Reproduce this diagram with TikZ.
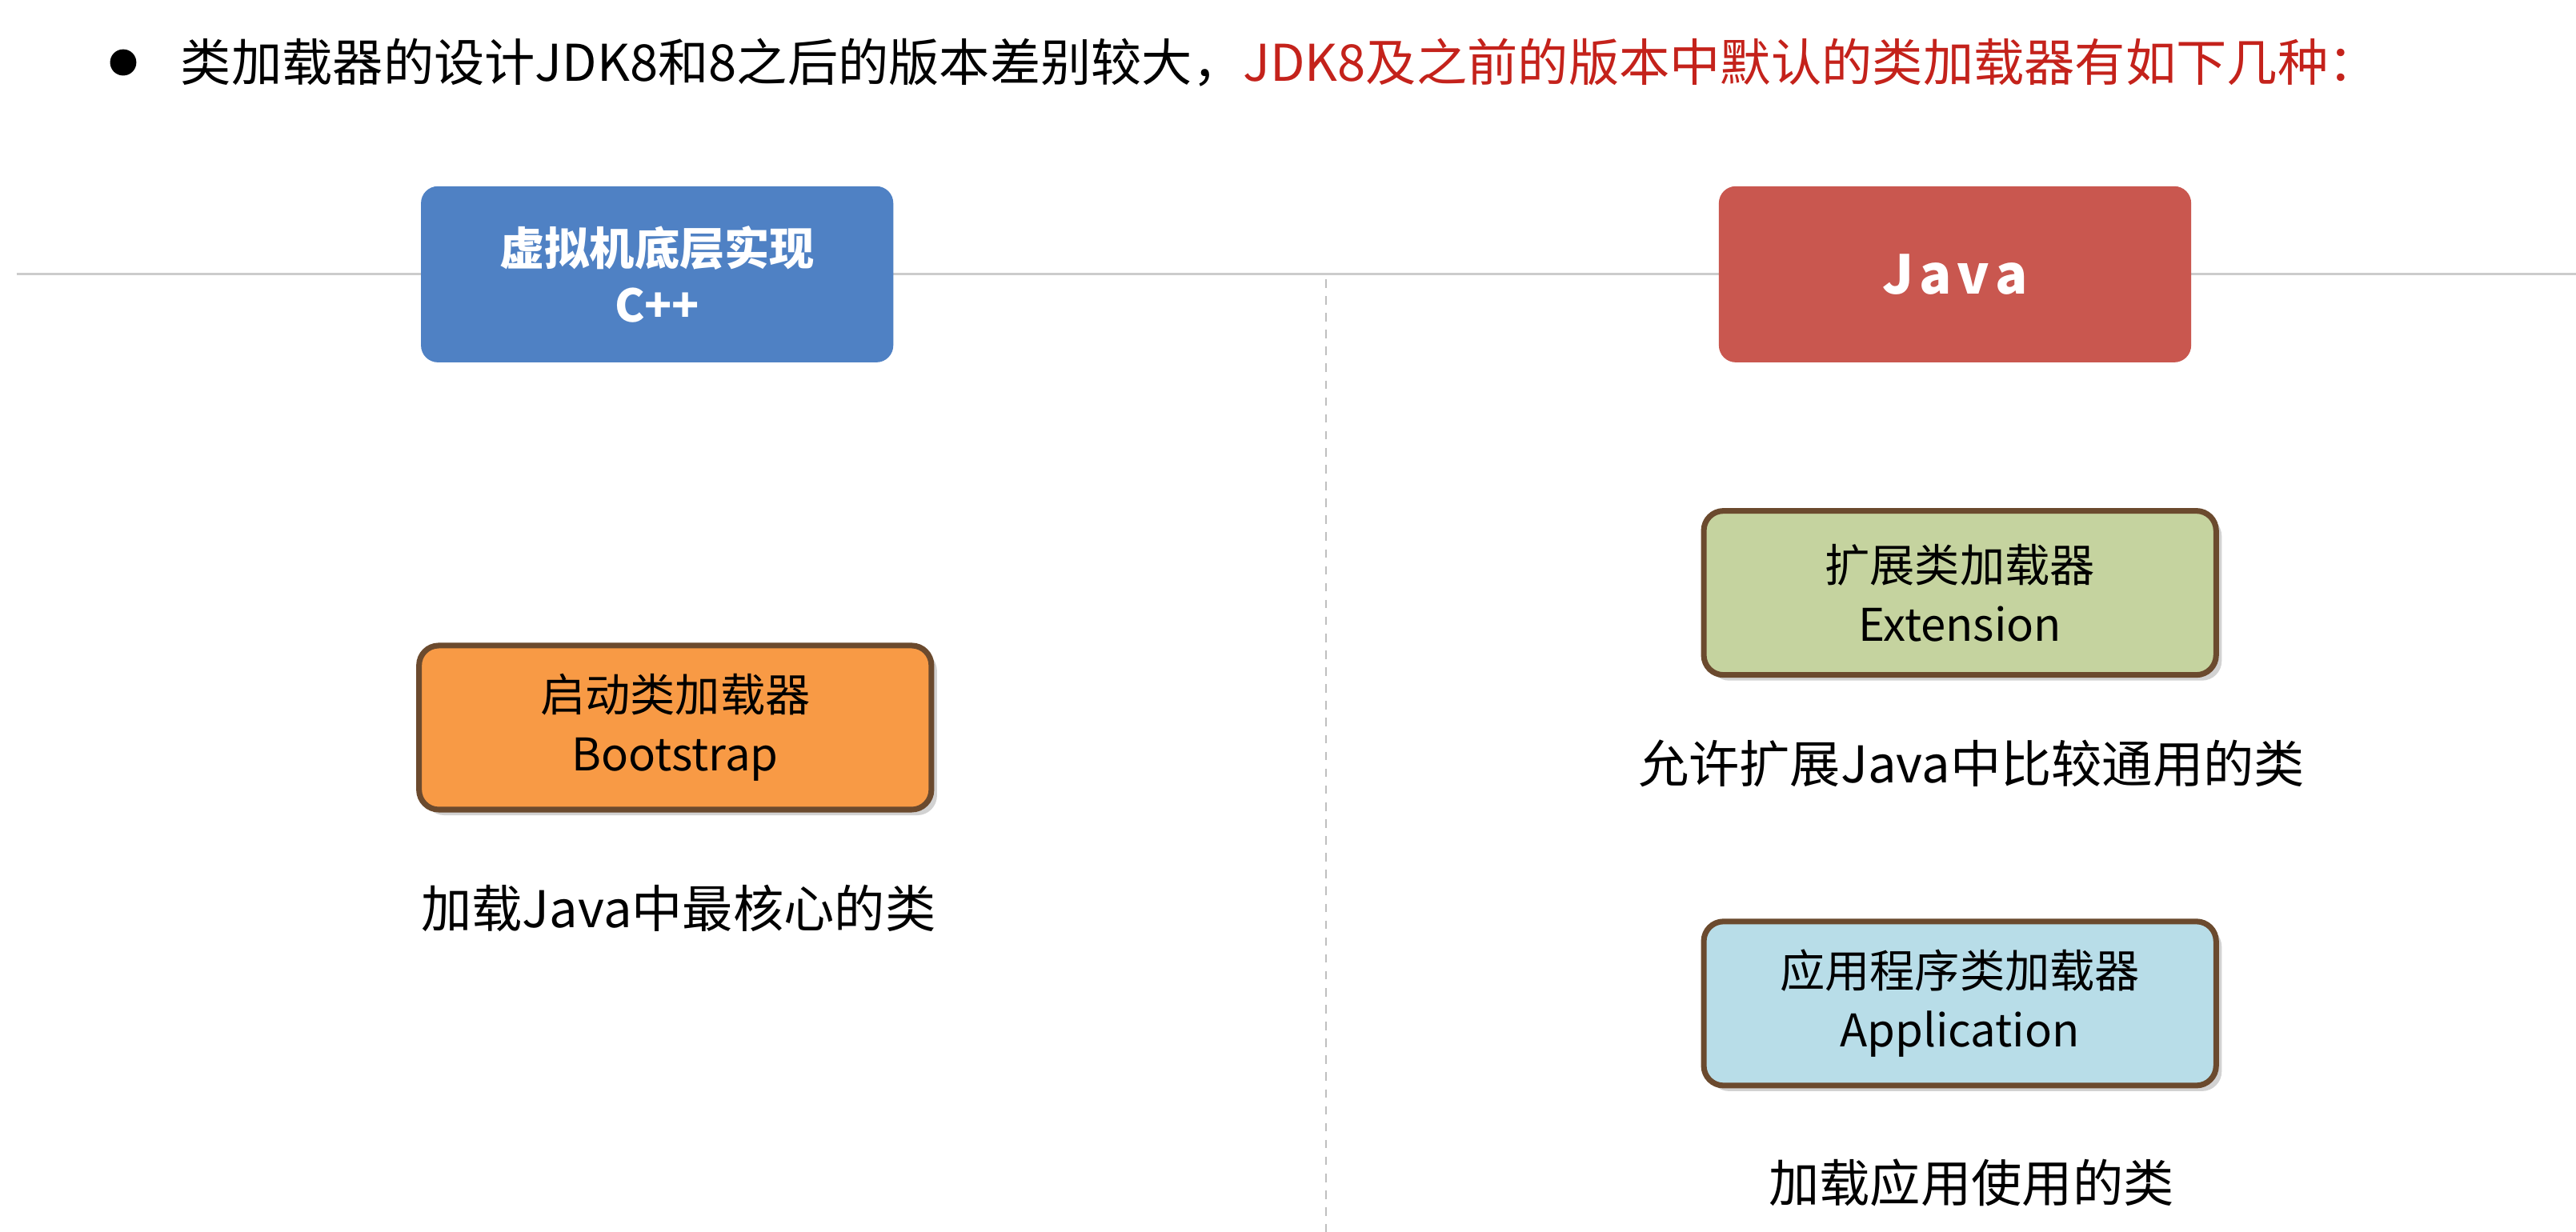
\documentclass[tikz,border=0pt]{standalone}
\usepackage{fontspec}
\setmainfont{Noto Sans CJK SC}
\usetikzlibrary{positioning, shadows}
\definecolor{vmblue}{HTML}{4F81C4}
\definecolor{javared}{HTML}{C9574F}
\definecolor{bootorange}{HTML}{F89A45}
\definecolor{extgreen}{HTML}{C5D39F}
\definecolor{appblue}{HTML}{B8DDE8}
\definecolor{boxedge}{HTML}{6B4A2E}
\definecolor{titlered}{HTML}{C4221B}

\begin{document}
\begin{tikzpicture}[x=0.02053cm, y=-0.02053cm,
                    topbox/.style={rounded corners=6pt, minimum width=5.9cm, minimum height=2.2cm, align=center, text=white, font=\fontsize{16}{20}\selectfont\bfseries},
                    loadbox/.style={draw=boxedge, line width=2pt, rounded corners=7pt, minimum width=6.4cm, minimum height=2.05cm, align=center, font=\fontsize{16}{21}\selectfont, drop shadow={shadow xshift=2pt, shadow yshift=-2pt, opacity=0.35}},
                    caption/.style={font=\fontsize{18}{22}\selectfont}]
        \useasboundingbox[fill=white] (0,0) rectangle (1568,750);
        \fill (75,38) circle (8);
        \node[anchor=west, font=\fontsize{18}{22}\selectfont] (title) at (104,38) {类加载器的设计JDK8和8之后的版本差别较大，\textcolor{titlered}{JDK8及之前的版本中默认的类加载器有如下几种：}};
        \draw[black!20, line width=0.8pt] (10,167) -- (1568,167);
        \draw[black!25, dashed, line width=0.6pt] (807,170) -- (807,750);
        % top boxes
        \node[topbox, fill=vmblue] (vm) at (400,167) {虚拟机底层实现\\C++};
        \node[topbox, fill=javared, font=\fontsize{19}{24}\selectfont\bfseries] (java) at (1190,167) {J\kern2pt a\kern2pt v\kern2pt a};
        % loaders
        \node[loadbox, fill=bootorange] (boot) at (411,443) {启动类加载器\\Bootstrap};
        \node[loadbox, fill=extgreen] (ext) at (1193,361) {扩展类加载器\\Extension};
        \node[loadbox, fill=appblue] (app) at (1193,611) {应用程序类加载器\\Application};
        \node[caption] (bootcap) at (413,553) {加载Java中最核心的类};
        \node[caption] (extcap) at (1200,465) {允许扩展Java中比较通用的类};
        \node[caption] (appcap) at (1200,720) {加载应用使用的类};
\end{tikzpicture}
\end{document}
